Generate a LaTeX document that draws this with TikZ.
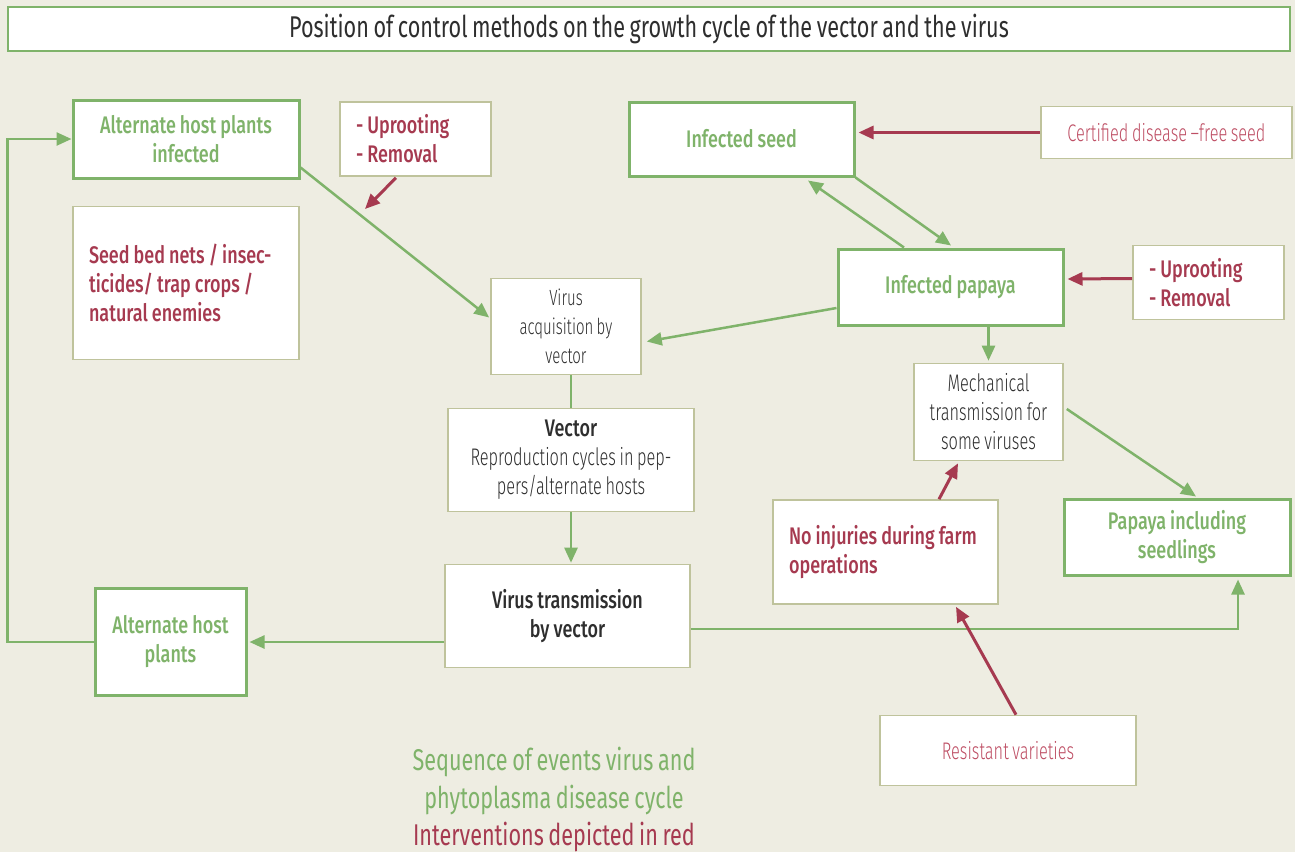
\documentclass[tikz,border=0pt]{standalone}
\usepackage{fontspec}
\setmainfont[FakeStretch=0.72, WordSpace=0.8, Ligatures=TeX]{Fira Sans}
\newfontfamily\lightfont[FakeStretch=0.68, WordSpace=0.8, Ligatures=TeX]{Fira Sans Light}
\newfontfamily\medfont[FakeStretch=0.75, WordSpace=0.9, Ligatures=TeX]{Fira Sans Medium}
\usetikzlibrary{arrows.meta,calc}
\definecolor{bgc}{HTML}{EEEDE2}
\definecolor{grn}{HTML}{7FB36A}
\definecolor{rd}{HTML}{A63A50}
\definecolor{lrd}{HTML}{BE4E64}
\definecolor{olv}{HTML}{BFC39C}
\definecolor{dk}{HTML}{2E2E2E}
\newcommand{\fs}{\fontsize{24}{29}\selectfont}
% use the font's own interword space inside left-aligned boxes
\newcommand{\natspace}{\spaceskip=0pt\xspaceskip=0pt\relax}
\tikzset{
  gbox/.style={draw=grn, line width=3pt, fill=white, text=grn, align=center,
    font=\medfont\fs, inner sep=0pt},
  tbox/.style={draw=olv, line width=1.6pt, fill=white, align=center, inner sep=0pt},
  lbox/.style={tbox, align=left, inner xsep=16pt, inner ysep=0pt, text=rd, font=\medfont\fs},
  garrow/.style={draw=grn, line width=2.5pt, -{Triangle[length=15pt,width=13pt]}},
  gline/.style={draw=grn, line width=2.5pt},
  rarrow/.style={draw=rd, line width=3pt, -{Triangle[length=15pt,width=13pt]}},
  legend/.style={font=\fontsize{30}{36}\selectfont},
}
\begin{document}
\begin{tikzpicture}[x=1pt,y=-1pt]
\fill[bgc] (0,0) rectangle (1295,852);
\useasboundingbox (0,0) rectangle (1295,852);

% title
\node[draw=grn, line width=1.5pt, fill=white, minimum width=1282pt, minimum height=44pt,
  text=dk, font=\fontsize{30}{34}\selectfont] (title) at (649,29)
  {Position of control methods on the growth cycle of the vector and the virus};

% left column
\node[gbox, minimum width=226pt, minimum height=78pt] (altinf) at (186,139)
  {Alternate host plants\\infected};
\node[lbox, text width=119pt, minimum height=74pt] (uproot1) at (415.5,139)
  {\natspace - Uprooting\\- Removal};
\node[lbox, text width=194pt, minimum height=153pt] (seedbed) at (186,283)
  {\natspace Seed bed nets / insec-\\ticides/ trap crops /\\natural enemies};
\node[gbox, minimum width=151pt, minimum height=107pt] (althost) at (170.5,642)
  {Alternate host\\plants};

% centre column
\node[tbox, minimum width=150pt, minimum height=96pt, text=dk,
  font=\lightfont\fontsize{22}{29}\selectfont] (acq) at (566,326.5)
  {Virus\\acquisition by\\vector};
\node[tbox, minimum width=246pt, minimum height=103pt, text=dk,
  font=\lightfont\fs] (vector) at (571,460)
  {{\medfont Vector}\\Reproduction cycles in pep-\\pers/alternate hosts};
\node[tbox, minimum width=245pt, minimum height=103pt, text=dk,
  font=\medfont\fs] (trans) at (567.5,616)
  {Virus transmission\\by vector};

% right part
\node[gbox, minimum width=225pt, minimum height=74pt] (infseed) at (741.5,139)
  {Infected seed};
\node[tbox, minimum width=251pt, minimum height=52pt, text=lrd,
  font=\lightfont\fs] (cert) at (1166.5,132.5)
  {Certified disease –free seed};
\node[gbox, minimum width=225pt, minimum height=76pt] (infpap) at (950.5,287)
  {Infected papaya};
\node[lbox, text width=119pt, minimum height=74pt] (uproot2) at (1208.5,282.5)
  {\natspace - Uprooting\\- Removal};
\node[tbox, minimum width=149pt, minimum height=97pt, text=dk,
  font=\lightfont\fs] (mech) at (988.5,412)
  {Mechanical\\transmission for\\some viruses};
\node[lbox, text width=193pt, minimum height=104pt] (noinj) at (885.5,552)
  {\natspace No injuries during farm\\operations};
\node[gbox, minimum width=226pt, minimum height=76pt] (papseed) at (1177,537)
  {Papaya including\\seedlings};
\node[tbox, minimum width=256pt, minimum height=70pt, text=lrd,
  font=\lightfont\fs] (resist) at (1008,750.5)
  {Resistant varieties};

% legend
\node[legend, text=grn] (leg1) at (554,762) {Sequence of events virus and};
\node[legend, text=grn] (leg2) at (554,800) {phytoplasma disease cycle};
\node[legend, text=rd] (leg3) at (554,837) {Interventions depicted in red};

% green sequence of events
\draw[garrow] (althost.west) -- ++(-86,0) |- (altinf.west);
\draw[garrow] ($(altinf.south east)+(0,-12)$) -- ($(acq.west)+(-1,-9)$);
\draw[gline] (vector.north |- acq.south) -- (vector.north);
\draw[garrow] (vector.south) -- ($(vector.south |- trans.north)+(0,-1)$);
\draw[garrow] (trans.west |- althost.east) -- ($(althost.east)+(2,0)$);
\draw[garrow] ($(trans.east)+(0,13)$) -| ($(papseed.south)+(61,3)$);
\draw[garrow] ($(infpap.west)+(0,21)$) -- ($(acq.east)+(5,15)$);
\draw[garrow] ($(infpap.north)+(-46.5,0)$) -- ($(infseed.south)+(66.5,3)$);
\draw[garrow] (infseed.south east) -- ($(infpap.north)+(0.5,-2)$);
\draw[garrow] (mech.north |- infpap.south) -- ($(mech.north)+(0,-2)$);
\draw[garrow] ($(mech.east)+(3,-3)$) -- ($(papseed.north)+(19,-1)$);

% red interventions
\coordinate (uptip) at (365,209);
\draw[rarrow] ($(uproot1.south)+(-19.5,1)$) -- (uptip);
\draw[rarrow] (cert.west) -- ($(infseed.east |- cert.west)+(3,0)$);
\draw[rarrow] ($(uproot2.west)+(0,-4)$) -- ($(infpap.east)+(3,-8)$);
\draw[rarrow] ($(noinj.north)+(53.5,0)$) -- ($(mech.south)+(-30.5,2)$);
\draw[rarrow] ($(resist.north)+(8,0)$) -- ($(noinj.south)+(70.5,2)$);
\end{tikzpicture}
\end{document}
